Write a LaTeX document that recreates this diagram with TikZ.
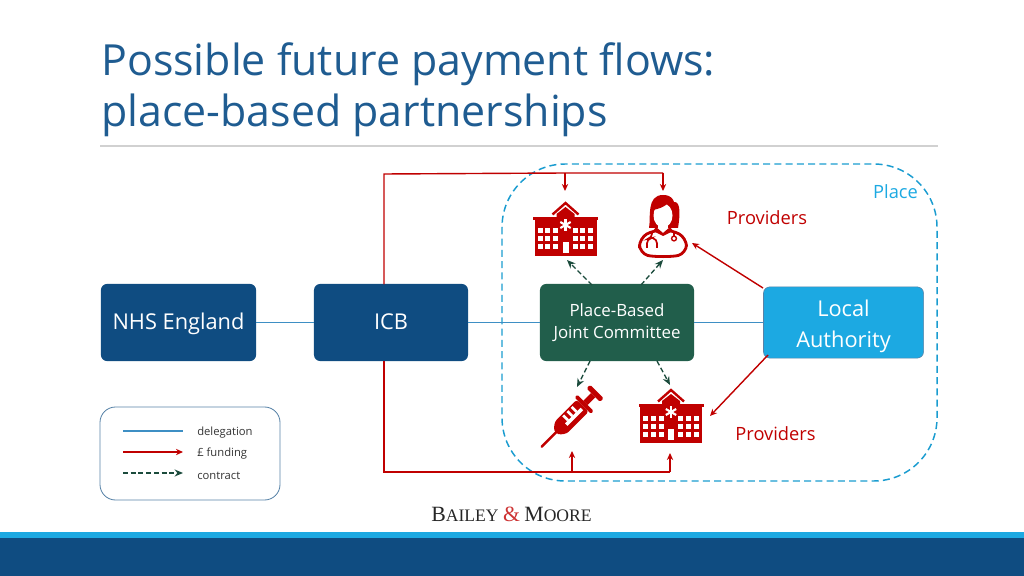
\documentclass[tikz,border=0pt]{standalone}
\usepackage{fontspec}
\setmainfont{Open Sans}
\newfontfamily\logofont{Liberation Serif}
\usetikzlibrary{arrows.meta}
\definecolor{navy}{HTML}{0F4C81}
\definecolor{sky}{HTML}{1CA9E2}
\definecolor{pine}{HTML}{215E4B}
\definecolor{crimson}{HTML}{C00000}
\definecolor{titleblue}{HTML}{1F5C91}
\definecolor{delegline}{HTML}{3E8FC4}
\tikzset{
  orgbox/.style={rounded corners=4.5pt,text=white,align=center,inner sep=0pt},
  deleg/.style={delegline,line width=0.8pt},
  fund/.style={crimson,line width=1pt,-{Stealth[length=5pt,width=4.5pt]}},
  fundline/.style={crimson,line width=1pt},
  contract/.style={pine!80!black,line width=0.95pt,dash pattern=on 3.5pt off 2pt,-{Stealth[length=6pt,width=5pt]}},
  hospital/.pic={
    \fill[crimson] (-31,-9) rectangle (31,27);
    \fill[crimson] (-32.5,-12) rectangle (32.5,-9);
    \fill[crimson] (-9,-9) -- (-9,-15) -- (0,-22) -- (9,-15) -- (9,-9) -- cycle;
    \draw[crimson,line width=1.7pt] (-13,-14.5) -- (0,-26) -- (13,-14.5);
    \foreach \px in {-25.5,-18,-10,9.5,17,25}
      \foreach \py in {2,10,18}
        \fill[white] (\px-2.5,\py-2.5) rectangle (\px+2.5,\py+2.5);
    \fill[white] (-3,13) rectangle (3,24);
    \foreach \ang in {30,90,150}
      \draw[white,line width=1.5pt,rotate around={\ang:(0,-4)}] (-6,-4) -- (6,-4);
  },
  doctor/.pic={
    % coat
    \filldraw[crimson,fill=white,line width=2pt,rounded corners=6pt]
      (-23.5,27) -- (-23.5,12) -- (-9,4) -- (9,4) -- (23.5,12) -- (23.5,27)
      .. controls (10,31) and (-10,31) .. cycle;
    % hair and face
    \fill[crimson] (-14,2) .. controls (-12,-8) and (-17,-31) .. (0,-31)
      .. controls (8,-31) and (10,-27) .. (11,-24)
      .. controls (18,-25) and (17,-10) .. (15,2) -- cycle;
    \fill[white] (0,-10.5) ellipse (9.5 and 12);
    \fill[crimson] (-10,-16) .. controls (-6,-17) and (1,-18) .. (6,-24) -- (2,-28) -- (-8,-26) -- cycle;
    \fill[white] (-5,-4) rectangle (5,6);
    \fill[crimson] (-7,1) -- (0,7) -- (7,1) -- (10,5) -- (0,10) -- (-10,5) -- cycle;
    % stethoscope
    \draw[crimson,line width=1.2pt,rounded corners=3pt] (-11,7) -- (-11,12) -- (-16,13) -- (-16,22) (-11,12) -- (-6,13) -- (-6,22);
    \draw[crimson,line width=1.2pt] (11,7) -- (11,10);
    \draw[crimson,line width=1pt] (11,12.5) circle (2.4);
  },
  syringe/.pic={
    \draw[crimson,line width=1.7pt,line cap=round] (0,0) -- (22,0);
    \fill[crimson,rounded corners=2pt] (20,-3) -- (27,-8.5) -- (58,-8.5) -- (58,8.5) -- (27,8.5) -- (20,3) -- cycle;
    \foreach \tx in {36,42,48}
      \fill[white] (\tx,-7) rectangle (\tx+2.6,0);
    \fill[white] (33,0) rectangle (55,3.5);
    \fill[crimson,rounded corners=1pt] (58,-11.5) rectangle (62,11.5);
    \fill[crimson] (62,-3) rectangle (73,3);
    \fill[crimson,rounded corners=1pt] (73,-9.5) rectangle (78,9.5);
  }
}
\begin{document}
\begin{tikzpicture}[x=0.025cm,y=-0.025cm]
\useasboundingbox (0,0) rectangle (1024,576);
% title
\node[anchor=west,text=titleblue,font=\fontsize{30.5}{36}\selectfont,align=left,inner sep=0pt] (title) at (101,90) {Possible future payment flows:\\place-based partnerships};
\coordinate (ruleL) at (100,146);
\coordinate (ruleR) at (938,146);
\draw[black!18,line width=0.8pt] (ruleL) -- (ruleR);
% footer
\fill[sky] (0,532) rectangle (1024,538);
\fill[navy] (0,538) rectangle (1024,576);
\node[text=black!85,inner sep=0pt] (logo) at (511.5,514) {\logofont\fontsize{15.5}{16}\selectfont B\fontsize{12.5}{16}\selectfont AILEY {\color{crimson!80}\fontsize{15.5}{16}\selectfont\&} \fontsize{15.5}{16}\selectfont M\fontsize{12.5}{16}\selectfont OORE};
% place
\draw[sky!92!black,line width=1.05pt,dash pattern=on 5pt off 3pt,rounded corners=45pt] (502,164) rectangle (937,481);
\node[text=sky,font=\fontsize{13}{15}\selectfont,inner sep=0pt] (place) at (895.5,192) {Place};
\node[text=crimson,font=\fontsize{13}{15}\selectfont,inner sep=0pt] (provtop) at (767,218) {Providers};
\node[text=crimson,font=\fontsize{13}{15}\selectfont,inner sep=0pt] (provbot) at (775.5,434) {Providers};
% boxes
\node[orgbox,fill=navy,minimum width=3.88cm,minimum height=1.93cm,text height=13.5pt,text depth=3pt,font=\fontsize{15.5}{18}\selectfont] (nhs) at (178.5,322.5) {NHS England};
\node[orgbox,fill=navy,minimum width=3.85cm,minimum height=1.93cm,text height=13.5pt,text depth=3pt,font=\fontsize{15.5}{18}\selectfont] (icb) at (391,322.5) {ICB};
\node[orgbox,fill=pine,minimum width=3.85cm,minimum height=1.93cm,font=\fontsize{12}{15.2}\selectfont] (pbjc) at (617,322.5) {Place-Based\\Joint Committee};
\node[orgbox,fill=sky,draw=navy!70,line width=0.4pt,minimum width=4cm,minimum height=1.78cm,font=\fontsize{15.5}{22}\selectfont] (la) at (843.5,322.5) {\rule{0pt}{17pt}Local\\Authority};
% icons
\pic at (565.5,229) {hospital};
\pic at (663,226) {doctor};
\pic at (671,416) {hospital};
\pic[rotate=45] at (541.7,446.7) {syringe};
% delegation
\draw[deleg] (nhs) -- (icb);
\draw[deleg] (icb) -- (pbjc);
\draw[deleg] (pbjc) -- (la);
% funding
\coordinate (icbT) at (384,284.5);
\coordinate (topL) at (384,174);
\coordinate (topM) at (565,173);
\coordinate (topR) at (663,173);
\coordinate (hospA) at (565,191);
\coordinate (docA) at (663,191);
\coordinate (icbB) at (384,361);
\coordinate (botL) at (384,472);
\coordinate (botM) at (572,472);
\coordinate (botR) at (670,472);
\coordinate (syrA) at (572,451);
\coordinate (hospB) at (670,453);
\draw[fundline] (icbT) -- (topL) -- (topM) -- (topR);
\draw[fund] (topM) -- (hospA);
\draw[fund] (topR) -- (docA);
\draw[fundline] (icbB) -- (botL) -- (botR);
\draw[fund] (botM) -- (syrA);
\draw[fund] (botR) -- (hospB);
\coordinate (laT) at (763,288);
\coordinate (laB) at (768,355);
\coordinate (docB) at (692,243);
\coordinate (hospC) at (710,416);
\draw[fund] (laT) -- (docB);
\draw[fund] (laB) -- (hospC);
% contract
\coordinate (jcA) at (592,285);
\coordinate (jcB) at (641,285);
\coordinate (jcC) at (590,361);
\coordinate (jcD) at (657,361);
\coordinate (hospD) at (567,260);
\coordinate (docC) at (663,260);
\coordinate (syrB) at (577,387);
\coordinate (hospE) at (670,385);
\draw[contract] (jcA) -- (hospD);
\draw[contract] (jcB) -- (docC);
\draw[contract] (jcC) -- (syrB);
\draw[contract] (jcD) -- (hospE);
% legend
\draw[navy!70,line width=0.6pt,rounded corners=11pt] (100,407) rectangle (280,500);
\coordinate (lgA) at (123,431);
\coordinate (lgB) at (183,431);
\coordinate (lgC) at (123,452);
\coordinate (lgD) at (183,452);
\coordinate (lgE) at (123,473);
\coordinate (lgF) at (183,473);
\draw[deleg] (lgA) -- (lgB);
\draw[fund] (lgC) -- (lgD);
\draw[contract] (lgE) -- (lgF);
\node[anchor=west,font=\fontsize{8}{10}\selectfont,text=black!80,inner sep=0pt] (lgdeleg) at (197,432.5) {delegation};
\node[anchor=west,font=\fontsize{8}{10}\selectfont,text=black!80,inner sep=0pt] (lgfund) at (197,454) {£ funding};
\node[anchor=west,font=\fontsize{8}{10}\selectfont,text=black!80,inner sep=0pt] (lgcontract) at (197,476) {contract};
\end{tikzpicture}
\end{document}
